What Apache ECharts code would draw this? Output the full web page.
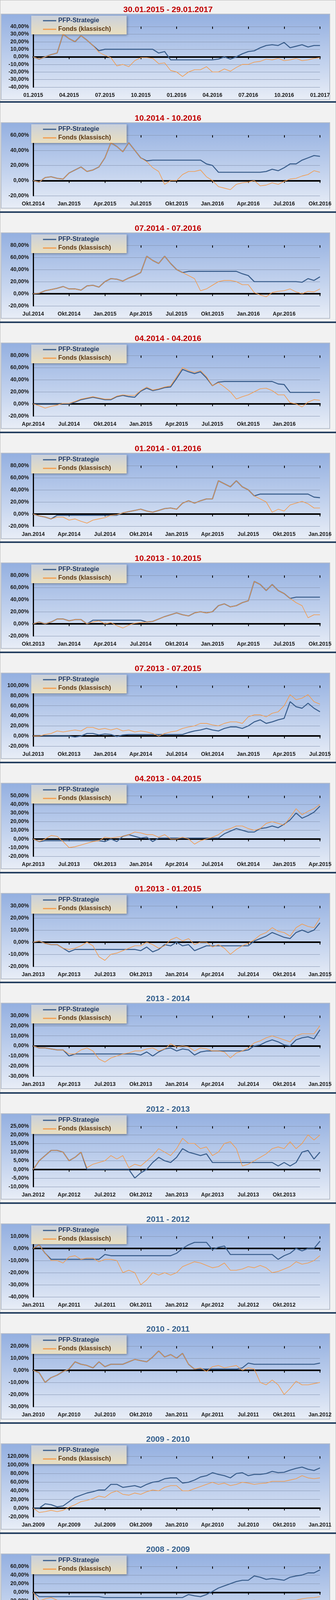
<!DOCTYPE html>
<html><head><meta charset="utf-8">
<script src="https://cdn.jsdelivr.net/npm/echarts@6/dist/echarts.min.js"></script>
<style>
html,body{margin:0;padding:0;background:#f2f2f2;}
body{width:860px;height:4232px;position:relative;overflow:hidden;}
.frame{position:absolute;left:0;top:0;width:858px;height:4230px;border:1px solid #b8b8b8;}
.p{position:absolute;left:0;width:860px;height:282px;}
.sep{position:absolute;left:0;width:860px;height:4px;background:#243f60;}
</style></head><body>
<div class="frame"></div>
<script>
// ---- titles ----
const titles = ["30.01.2015 - 29.01.2017","10.2014 - 10.2016","07.2014 - 07.2016","04.2014 - 04.2016","01.2014 - 01.2016","10.2013 - 10.2015","07.2013 - 07.2015","04.2013 - 04.2015","01.2013 - 01.2015","2013 - 2014","2012 - 2013","2011 - 2012","2010 - 2011","2009 - 2010","2008 - 2009"];
// ---- tick labels (every 3 months) ----
const labels1 = ["01.2015","04.2015","07.2015","10.2015","01.2016","04.2016","07.2016","10.2016","01.2017"];
const labels2 = ["Okt.2014","Jan.2015","Apr.2015","Jul.2015","Okt.2015","Jan.2016","Apr.2016","Jul.2016","Okt.2016"];
const labels3 = ["Jul.2014","Okt.2014","Jan.2015","Apr.2015","Jul.2015","Okt.2015","Jan.2016","Apr.2016",""];
const labels4 = ["Apr.2014","Jul.2014","Okt.2014","Jan.2015","Apr.2015","Jul.2015","Okt.2015","Jan.2016",""];
const labels5 = ["Jan.2014","Apr.2014","Jul.2014","Okt.2014","Jan.2015","Apr.2015","Jul.2015","Okt.2015","Jan.2016"];
const labels6 = ["Okt.2013","Jan.2014","Apr.2014","Jul.2014","Okt.2014","Jan.2015","Apr.2015","Jul.2015","Okt.2015"];
const labels7 = ["Jul.2013","Okt.2013","Jan.2014","Apr.2014","Jul.2014","Okt.2014","Jan.2015","Apr.2015","Jul.2015"];
const labels8 = ["Apr.2013","Jul.2013","Okt.2013","Jan.2014","Apr.2014","Jul.2014","Okt.2014","Jan.2015","Apr.2015"];
const labels9 = ["Jan.2013","Apr.2013","Jul.2013","Okt.2013","Jan.2014","Apr.2014","Jul.2014","Okt.2014","Jan.2015"];
const labels10 = ["Jan.2013","Apr.2013","Jul.2013","Okt.2013","Jan.2014","Apr.2014","Jul.2014","Okt.2014","Jan.2015"];
const labels11 = ["Jan.2012","Apr.2012","Jul.2012","Okt.2012","Jan.2013","Apr.2013","Jul.2013","Okt.2013",""];
const labels12 = ["Jan.2011","Apr.2011","Jul.2011","Okt.2011","Jan.2012","Apr.2012","Jul.2012","Okt.2012",""];
const labels13 = ["Jan.2010","Apr.2010","Jul.2010","Okt.2010","Jan.2011","Apr.2011","Jul.2011","Okt.2011","Jan.2012"];
const labels14 = ["Jan.2009","Apr.2009","Jul.2009","Okt.2009","Jan.2010","Apr.2010","Jul.2010","Okt.2010","Jan.2011"];
const labels15 = ["Jan.2008","Apr.2008","Jul.2008","Okt.2008","Jan.2009","Apr.2009","Jul.2009","Okt.2009","Jan.2010"];
// ---- y axis ranges [min, max, step] in % ----
const yRanges = [[-40,40,10],[-20,60,20],[-20,80,20],[-20,80,20],[-20,80,20],[-20,80,20],[-20,100,20],[-20,50,10],[-20,30,10],[-30,30,10],[-10,25,5],[-40,10,10],[-30,20,10],[-20,120,20],[-80,60,20]];
// ---- series values in %, one value per half month ----
const pfp1 = [0,-3,0,3,5,30,24,20,28,22,15,8,10,10,10,10,10,10,10,10,10,5,7,-4,-4,-4,-4,-4,-4,-4,-4,-3,0,-3,0,4,7,8,12,15,16,15,19,12,14,16,13,15,15];
const fonds1 = [0,-3,0,3,5,30,24,20,28,22,15,6,2,-1,-12,-10,-13,-5,-1,-1,-2,-9,-8,-18,-20,-26,-20,-17,-17,-13,-20,-20,-16,-19,-14,-10,-10,-7,-6,-3,-4,-2,-5,-4,-2,-5,-4,-2,-1];
const pfp2 = [0,-2,4,5,3,2,10,14,18,12,14,18,30,50,45,38,50,40,30,26,27,27,27,27,27,27,27,27,27,22,20,11,11,11,11,11,11,11,11,12,15,13,17,22,22,27,30,33,32];
const fonds2 = [0,-2,4,5,3,2,10,14,18,12,14,18,30,50,45,38,50,40,30,25,17,12,-5,0,0,8,12,12,14,5,0,-8,-10,-12,-5,-3,-2,0,-7,-6,-3,-5,-1,2,3,6,8,13,11];
const pfp3 = [0,1,5,7,9,12,8,8,6,13,14,11,20,25,24,21,26,30,35,62,55,50,62,50,40,35,37,37,37,37,37,37,37,37,37,33,30,20,20,20,20,20,20,20,20,19,25,22,28];
const fonds3 = [0,1,5,7,9,12,8,8,6,13,14,11,20,25,24,21,26,30,35,62,55,50,62,50,40,35,30,25,5,8,14,20,22,22,20,15,15,2,-2,-5,2,4,5,8,3,0,4,3,8];
const pfp4 = [0,0,0,0,0,0,0,3,7,9,11,9,7,7,12,14,12,11,21,26,22,24,27,28,42,57,53,50,53,43,30,36,37,37,37,37,37,37,37,37,37,33,32,19,19,19,19,19,19];
const fonds4 = [0,-3,-7,-4,-2,1,1,4,8,10,12,10,8,8,13,15,14,14,22,28,23,25,28,30,45,60,55,52,55,45,30,35,28,20,8,12,15,20,25,26,22,15,15,2,0,-5,3,7,6];
const pfp5 = [0,-3,-5,-8,-2,-2,-2,-2,-2,-2,-2,-2,-2,-2,-2,2,4,6,8,5,3,6,9,10,8,18,22,18,22,25,25,55,50,45,55,45,40,30,33,33,33,33,33,33,33,33,33,28,27];
const fonds5 = [0,-3,-5,-8,-5,-5,-10,-8,-12,-15,-10,-8,-6,-2,-1,2,4,6,8,5,3,6,9,10,8,18,22,18,22,25,25,55,50,45,55,45,40,30,25,20,3,8,5,15,18,21,17,10,10];
const pfp6 = [0,3,0,3,8,8,5,7,7,0,6,6,6,6,6,6,6,6,6,3,4,8,12,15,18,15,13,18,20,18,20,30,33,28,30,35,38,70,65,55,65,55,50,42,44,44,44,44,44];
const fonds6 = [0,3,0,3,8,8,5,7,7,0,3,5,0,2,-3,-7,-2,1,2,3,4,8,12,15,18,15,13,18,20,18,20,30,33,28,30,35,38,70,65,55,65,55,50,42,35,30,10,15,15];
const pfp7 = [0,0,0,0,0,0,0,-2,0,5,5,2,4,3,-1,2,3,3,3,3,3,3,3,3,3,3,7,10,12,15,12,10,15,18,18,15,20,28,32,25,28,32,35,68,58,55,65,55,48];
const fonds7 = [0,0,3,5,10,8,10,12,10,17,17,13,15,12,15,10,12,8,10,8,5,0,5,8,10,15,18,20,25,25,22,20,25,28,28,25,38,42,42,38,45,48,60,82,72,75,82,68,63];
const pfp8 = [0,-3,-2,-2,-2,-2,-2,-2,-2,-2,-2,-2,-3,0,-3,3,5,3,1,2,-3,1,1,1,1,1,1,1,1,1,1,1,6,9,12,10,8,8,12,13,15,13,17,22,30,24,27,31,38];
const fonds8 = [0,-3,0,4,3,-3,-10,-9,-7,-5,-3,-2,2,1,2,3,5,8,7,5,5,2,5,0,0,2,0,-6,-2,0,2,5,10,12,15,15,12,10,12,18,20,18,16,25,35,28,32,35,40];
const pfp9 = [0,1,-1,-2,-2,-5,-8,-6,-6,-6,-6,-6,-6,-6,-6,-6,-6,-6,-7,-4,-8,-6,-2,-3,0,-3,-2,-7,-5,-3,-3,-3,-3,-3,-3,-3,-3,1,3,5,8,6,4,3,8,10,8,10,16];
const fonds9 = [0,1,-1,-2,-2,-5,-6,-5,-3,0,-3,-12,-15,-10,-9,-7,-5,-3,-3,0,-2,-5,-3,2,4,1,3,-2,0,0,-4,-2,-5,-10,-6,-3,-1,2,6,8,12,9,8,5,12,15,13,12,20];
const pfp10 = [0,-2,-2,-3,-4,-4,-10,-8,-8,-8,-8,-8,-8,-8,-8,-8,-8,-8,-9,-6,-10,-6,-3,-2,-5,-3,-4,-9,-6,-5,-5,-5,-5,-5,-5,-5,-4,0,1,4,6,4,1,0,6,8,9,7,16];
const fonds10 = [0,-2,-2,-3,-4,-4,-8,-8,-4,-2,-5,-13,-16,-12,-10,-8,-7,-5,-5,-3,-2,-5,-3,2,-1,0,-1,-5,-2,-3,-5,-5,-6,-12,-7,-5,-2,3,5,8,10,8,6,4,10,12,12,12,20];
const pfp11 = [0,5,8,11,11,10,5,7,10,0,0,0,0,0,0,0,0,-5,-2,0,4,7,5,4,7,12,10,9,8,9,4,4,4,4,4,4,4,4,4,4,4,2,4,2,4,10,11,6,10];
const fonds11 = [0,5,8,11,11,10,5,7,10,1,3,4,5,8,6,8,1,3,2,5,8,12,10,8,12,18,15,15,12,13,8,10,15,16,12,2,3,5,7,9,12,13,12,16,12,15,20,17,20];
const pfp12 = [0,3,-4,-9,-9,-9,-9,-9,-9,-9,-9,-9,-5,-6,-6,-6,-6,-6,-6,-6,-6,-6,-6,-6,-4,0,3,5,5,5,-1,1,2,-5,-5,-5,-5,-5,-5,-5,-5,-9,-6,-4,0,-2,0,0,6];
const fonds12 = [0,3,-4,-10,-10,-12,-7,-6,-9,-8,-8,-11,-9,-9,-10,-20,-18,-20,-30,-26,-20,-22,-20,-22,-20,-15,-13,-11,-12,-14,-16,-15,-12,-18,-18,-17,-15,-16,-14,-16,-20,-19,-17,-15,-11,-13,-12,-10,-6];
const pfp13 = [0,-2,-10,-6,-4,-1,1,7,5,4,2,7,3,5,5,5,7,9,8,7,11,16,11,13,10,14,5,1,1,1,1,1,1,1,1,2,6,5,5,5,5,5,5,5,5,5,5,5,6];
const fonds13 = [0,-2,-10,-6,-4,-1,1,7,5,4,2,7,3,5,5,5,7,9,8,7,11,16,11,13,10,14,5,1,2,-1,3,4,2,3,4,0,2,1,-10,-12,-8,-12,-20,-15,-9,-12,-12,-11,-10];
const pfp14 = [0,0,10,8,3,5,15,25,30,35,38,42,42,55,55,48,50,52,48,55,60,62,68,70,70,58,60,65,72,75,82,78,75,70,80,82,75,78,78,80,85,82,83,88,92,95,90,87,93];
const fonds14 = [0,-10,-8,-5,-8,-5,2,8,15,18,22,28,25,35,40,32,30,35,32,38,42,40,48,52,52,40,40,45,50,55,60,55,58,52,55,60,58,55,57,58,62,62,62,65,68,75,70,68,70];
const pfp15 = [0,-10,-10,-10,-10,-10,-10,-10,-10,-10,-10,-10,-12,-12,-12,-12,-12,-12,-12,-12,-12,-12,-12,-12,-12,-12,-5,-8,-10,-5,2,10,15,20,25,28,28,38,35,30,32,30,28,35,38,40,45,45,52];
const fonds15 = [0,-20,-15,-12,-18,-25,-32,-25,-22,-18,-20,-25,-32,-32,-30,-32,-35,-40,-45,-50,-48,-45,-43,-45,-45,-47,-43,-44,-45,-40,-35,-32,-30,-28,-25,-25,-22,-18,-22,-22,-20,-22,-22,-18,-18,-15,-13,-12,-10];

const allLabels=[labels1,labels2,labels3,labels4,labels5,labels6,labels7,labels8,labels9,labels10,labels11,labels12,labels13,labels14,labels15];
const allPfp=[pfp1,pfp2,pfp3,pfp4,pfp5,pfp6,pfp7,pfp8,pfp9,pfp10,pfp11,pfp12,pfp13,pfp14,pfp15];
const allFonds=[fonds1,fonds2,fonds3,fonds4,fonds5,fonds6,fonds7,fonds8,fonds9,fonds10,fonds11,fonds12,fonds13,fonds14,fonds15];

const tops=[-18,260,542,824,1106,1387,1669,1951,2233,2514,2797,3079,3360,3642,3924];
const seps=[260,542,824,1106,1387,1669,1951,2233,2514,2797,3079,3360,3642,3924,4206];
const FONT="'Liberation Sans Narrow','Arial Narrow','Liberation Sans',Arial,sans-serif";

seps.forEach(y=>{const d=document.createElement('div');d.className='sep';d.style.top=(y-1)+'px';document.body.appendChild(d);});

function toPts(arr){return arr.map((v,i)=>[i*0.5,v]);}
function pct(v){return v.toFixed(2).replace('.',',')+'%';}

for(let k=0;k<15;k++){
  const div=document.createElement('div');div.className='p';div.style.top=tops[k]+'px';
  document.body.appendChild(div);
  const ch=echarts.init(div,null,{renderer:'canvas'});
  const [ymin,ymax,ystep]=yRanges[k];
  const labs=allLabels[k];
  const xBase={type:'value',min:0,max:24,interval:3,gridIndex:0,splitLine:{show:false}};
  ch.setOption({
    animation:false,
    title:{text:titles[k],left:'center',top:28,textStyle:{fontFamily:FONT,fontSize:21,fontWeight:'bold',color:k<9?'#c00000':'#34608f'}},
    graphic:[{type:'rect',z:-10,shape:{x:3,y:54,width:841,height:219},
      style:{fill:new echarts.graphic.LinearGradient(0,0,0,1,[{offset:0,color:'#93afe0'},{offset:0.6,color:'#c5d4ee'},{offset:1,color:'#e9eef7'}]),stroke:'#b5bdca',lineWidth:2}}],
    legend:{left:80,top:58,orient:'vertical',itemGap:6,itemWidth:34,itemHeight:3,icon:'rect',
      padding:[5,40,5,30],
      backgroundColor:new echarts.graphic.LinearGradient(0,0,0,1,[{offset:0,color:'#c9d0dc'},{offset:1,color:'#eadfbf'}]),
      shadowBlur:6,shadowColor:'rgba(0,0,0,0.35)',shadowOffsetX:2,shadowOffsetY:2,
      data:[{name:'PFP-Strategie',textStyle:{color:'#1f3864'}},{name:'Fonds (klassisch)',textStyle:{color:'#5a3510'}}],
      textStyle:{fontFamily:FONT,fontSize:16,fontWeight:'bold'}},
    grid:{left:85,right:41,top:86,height:155},
    xAxis:[
      Object.assign({},xBase,{axisLine:{onZero:true,lineStyle:{color:'#000',width:4}},axisTick:{show:true,length:6,lineStyle:{color:'#000',width:2}},axisLabel:{show:false}}),
      Object.assign({},xBase,{axisLine:{show:false,onZero:true},axisTick:{show:true,inside:true,length:6,lineStyle:{color:'#000',width:2}},axisLabel:{show:false}}),
      Object.assign({},xBase,{position:'bottom',axisLine:{show:false,onZero:false},axisTick:{show:false},
        axisLabel:{show:true,margin:14,fontFamily:FONT,fontSize:14,fontWeight:'bold',color:'#1a1a1a',showMaxLabel:true,showMinLabel:true,
          formatter:v=>labs[Math.round(v/3)]||''}})
    ],
    yAxis:{type:'value',min:ymin,max:ymax,interval:ystep,
      axisLine:{show:true,onZero:false,lineStyle:{color:'#000',width:3}},axisTick:{show:false},
      splitLine:{lineStyle:{color:'#8796b2',width:1}},
      axisLabel:{margin:11,fontFamily:FONT,fontSize:14,fontWeight:'bold',color:'#1a1a1a',formatter:pct}},
    series:[
      {name:'PFP-Strategie',type:'line',xAxisIndex:0,data:toPts(allPfp[k]),showSymbol:false,lineStyle:{color:'#3a5e8c',width:2.6},itemStyle:{color:'#3a5e8c'},z:3},
      {name:'Fonds (klassisch)',type:'line',xAxisIndex:0,data:toPts(allFonds[k]),showSymbol:false,lineStyle:{color:'#f39b4c',width:1.6},itemStyle:{color:'#f39b4c'},z:4}
    ]
  });
}
</script>
</body></html>
